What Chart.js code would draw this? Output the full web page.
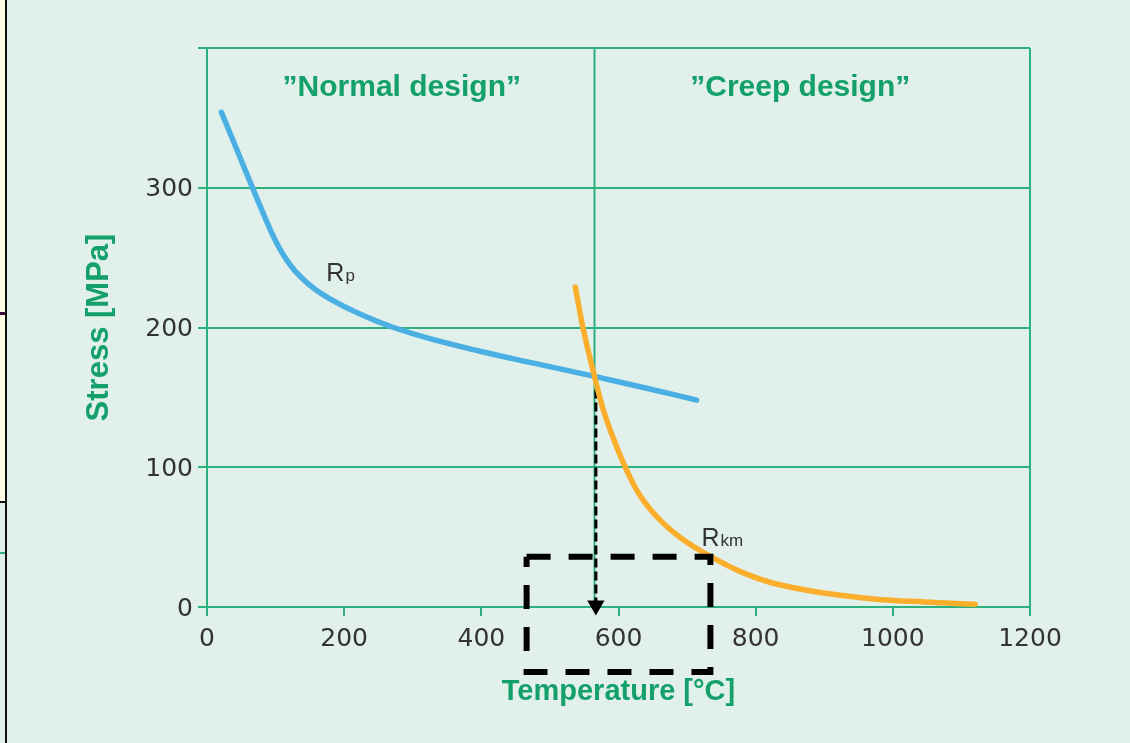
<!DOCTYPE html>
<html>
<head>
<meta charset="utf-8">
<script src="https://cdn.jsdelivr.net/npm/chart.js@4.4.0/dist/chart.umd.min.js"></script>
<style>
	body { margin:0; background:#e2f0eb; overflow:hidden; }
	#wrap { position:relative; width:1130px; height:743px; }
	#graphe { position:absolute; left:0; top:0; }
	.bord { position:absolute; }
</style>
</head>
<body>
<div id="wrap">
	<canvas id="graphe" width="1130" height="743"></canvas>
	<!-- bout de page voisine coupee a gauche -->
	<div class="bord" style="left:0;top:0;width:5px;height:502px;background:#fffde4;"></div>
	<div class="bord" style="left:5px;top:0;width:2px;height:743px;background:#111;"></div>
	<div class="bord" style="left:0;top:312px;width:5px;height:3px;background:#3b0b3a;"></div>
	<div class="bord" style="left:0;top:501px;width:5px;height:2px;background:#111;"></div>
	<div class="bord" style="left:0;top:552px;width:5px;height:2px;background:#2bb07e;"></div>
</div>
<script>
//***************************** donnees ************************************ */
const xTicks = [0, 200, 400, 600, 800, 1000, 1200];
const yTicks = [0, 100, 200, 300, 400];

// courbe Rp (limite d'elasticite)
const rpTemp   = [21, 40, 60, 80, 95, 106, 121, 136, 160, 194, 233, 272, 325, 398, 471, 565, 641, 714];
const rpStress = [354, 331.5, 307.5, 284, 267, 256.5, 245, 236.5, 226.5, 216.5, 207.5, 200, 192, 183, 175, 165, 156.5, 148];

// courbe Rkm (resistance au fluage)
const rkmTemp   = [537, 549, 565, 578, 593, 610, 631, 661, 695, 733, 777, 826, 899, 972, 1045, 1120];
const rkmStress = [229, 198, 165, 141, 120, 100, 80, 62, 48, 36.5, 25.5, 17, 10, 5.8, 3.6, 2];

// separation des zones + fleche + cadre pointille
const dividerTemp = 565;
const arrowTemp = [567, 567];
const arrowStress = [165, 1];
const boxTemp = [466, 734, 734, 466, 466];
const boxStress = [36, 36, -46.5, -46.5, 36];

const zoneLabels = ["\u201DNormal design\u201D", "\u201DCreep design\u201D"];
const zoneTemp = [284, 865];
const zoneStress = 366;

const curveNames = [["R", "p"], ["R", "km"]];
const curveNameTemp = [174, 721];
const curveNameStress = [233, 44];

//***************************** couleurs ************************************ */
const vert = "#2bb07e";
const vertTitre = "#14a06b";
const bleu = "#4aafe2";
const orange = "#fbae2c";
const gris = "#333333";

function points(xs, ys){
	return xs.map(function(v, i){ return {x: v, y: ys[i]}; });
}

// textes poses sur le graphe
const textesPlugin = {
	id: 'textes',
	afterDatasetsDraw(chart){
		const ctx = chart.ctx;
		const x = chart.scales.x, y = chart.scales.y;
		ctx.save();
		ctx.textBaseline = 'alphabetic';
		ctx.textAlign = 'center';
		ctx.fillStyle = vertTitre;
		ctx.font = 'bold 30px "Liberation Sans"';
		for(let i = 0; i < zoneLabels.length; i++){
			ctx.fillText(zoneLabels[i], x.getPixelForValue(zoneTemp[i]), y.getPixelForValue(zoneStress));
		}
		ctx.textAlign = 'left';
		ctx.fillStyle = gris;
		for(let i = 0; i < curveNames.length; i++){
			let px = x.getPixelForValue(curveNameTemp[i]);
			let py = y.getPixelForValue(curveNameStress[i]);
			ctx.font = '25px "Liberation Sans"';
			ctx.fillText(curveNames[i][0], px, py);
			let w = ctx.measureText(curveNames[i][0]).width;
			ctx.font = '17px "Liberation Sans"';
			ctx.fillText(curveNames[i][1], px + w + 1, py);
		}
		ctx.restore();
	}
};

new Chart(document.getElementById("graphe"), {
	type: 'line',
	data: {
		datasets: [
			{
				data: points([dividerTemp, dividerTemp], [0, 400]),
				borderColor: vert, borderWidth: 2, pointRadius: 0, order: 5
			},
			{
				data: points(rpTemp, rpStress),
				borderColor: bleu, borderWidth: 5.5, pointRadius: 0,
				tension: 0.4, borderCapStyle: 'round', order: 3
			},
			{
				data: points(rkmTemp, rkmStress),
				borderColor: orange, borderWidth: 5.5, pointRadius: 0,
				tension: 0.4, borderCapStyle: 'round', order: 2
			},
			{
				data: points(arrowTemp, arrowStress),
				borderColor: "#000", borderWidth: 3, borderDash: [9, 4],
				pointStyle: 'triangle', rotation: 180, pointRadius: [0, 10],
				pointBackgroundColor: "#000", pointBorderColor: "#000", pointBorderWidth: 0,
				clip: false, order: 4
			},
			{
				data: points(boxTemp, boxStress),
				borderColor: "#000", borderWidth: 6, borderDash: [24, 18],
				borderJoinStyle: 'miter', pointRadius: 0, clip: false, order: 0
			}
		]
	},
	options: {
		responsive: false,
		animation: false,
		layout: { padding: { top: 48, right: 100, left: 0, bottom: 0 } },
		plugins: {
			legend: { display: false },
			tooltip: { enabled: false }
		},
		scales: {
			x: {
				type: 'linear', min: 0, max: 1200,
				afterBuildTicks: function(scale){ scale.ticks = xTicks.map(function(v){ return {value: v}; }); },
				afterFit: function(scale){ scale.height = 136; },
				grid: {
					color: function(c){ return c.tick && c.tick.value === 1200 ? vert : 'transparent'; },
					tickColor: vert, lineWidth: 2, tickLength: 9
				},
				border: { color: vert, width: 2 },
				ticks: {
					color: gris, font: { family: '"DejaVu Sans"', size: 25 }, padding: 8, maxRotation: 0,
					callback: function(v){ return String(v); }
				},
				title: {
					display: true, text: 'Temperature [\u00B0C]', color: vertTitre,
					font: { family: '"Liberation Sans"', size: 29, weight: 'bold' },
					padding: { top: 0, bottom: 34 }
				}
			},
			y: {
				min: 0, max: 400,
				afterBuildTicks: function(scale){ scale.ticks = yTicks.map(function(v){ return {value: v}; }); },
				afterFit: function(scale){ scale.width = 207; },
				grid: { color: vert, tickColor: vert, lineWidth: 2, tickLength: 9 },
				border: { color: vert, width: 2 },
				ticks: {
					color: gris, font: { family: '"DejaVu Sans"', size: 25 }, padding: 5, labelOffset: 2,
					callback: function(v){ return v === 400 ? '' : String(v); }
				},
				title: {
					display: true, text: 'Stress [MPa]', color: vertTitre,
					font: { family: '"Liberation Sans"', size: 31, weight: 'bold' },
					padding: { top: 81, bottom: 0 }
				}
			}
		}
	},
	plugins: [textesPlugin]
});
</script>
</body>
</html>
